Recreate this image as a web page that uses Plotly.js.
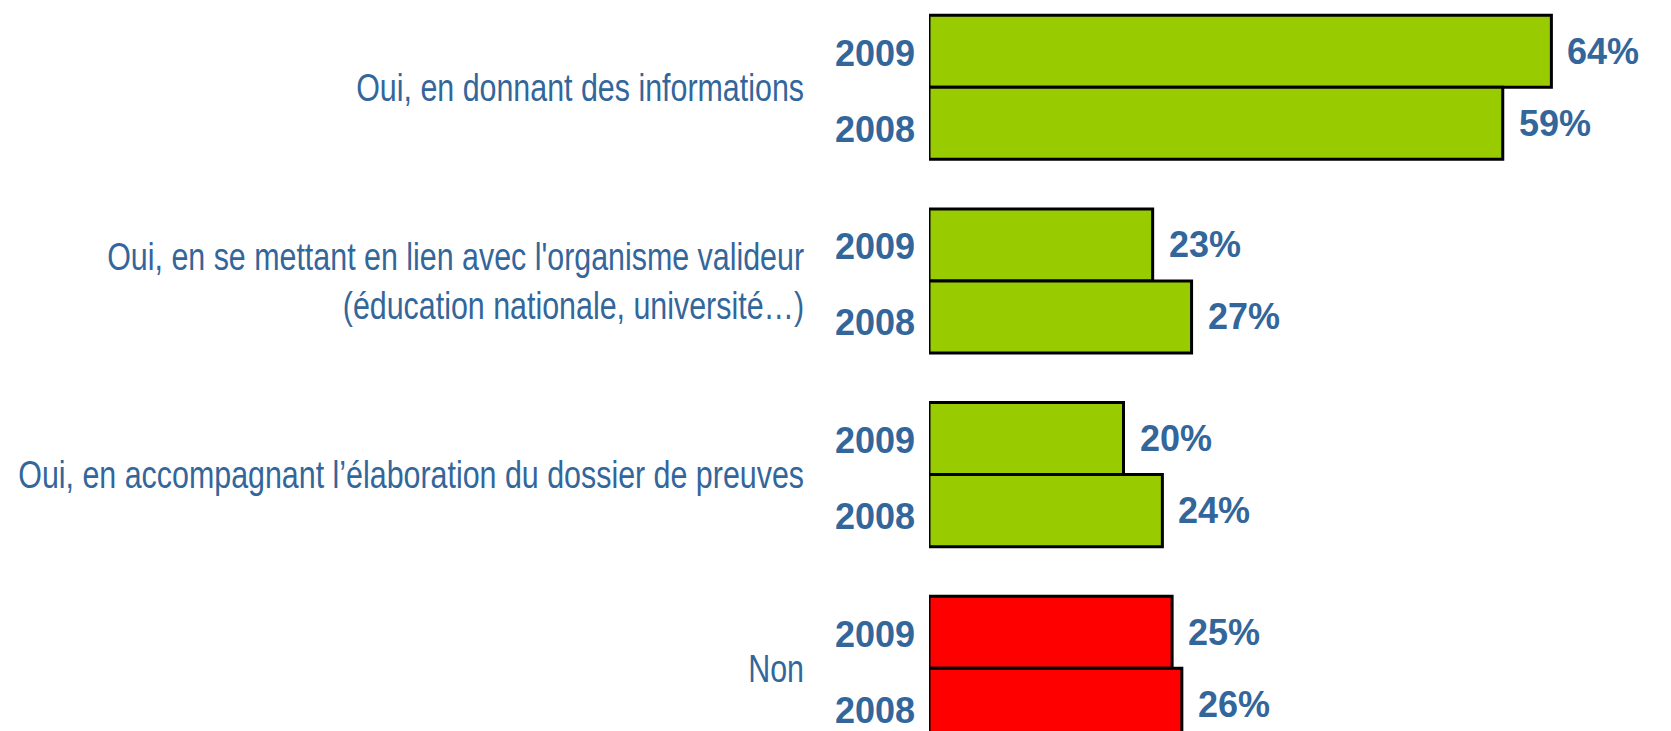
<!DOCTYPE html>
<html>
<head>
<meta charset="utf-8">
<script src="https://cdn.plot.ly/plotly-3.0.1.min.js"></script>
<style>html,body{margin:0;padding:0;background:#fff;}#chart{width:1671px;height:731px;}</style>
</head>
<body>
<div id="chart"></div>
<script>
// ---- data ----
const categories = [
  "Oui, en donnant des informations",
  "Oui, en se mettant en lien avec l'organisme valideur<br>(éducation nationale, université…)",
  "Oui, en accompagnant l’élaboration du dossier de preuves",
  "Non"
];
const years = ["2009", "2008"];
const values2009 = [64, 23, 20, 25];
const values2008 = [59, 27, 24, 26];

// ---- styles ----
const BLUE = "#33669A";
const GREEN = "#99CC00";
const RED = "#FF0000";
const BOLD_FONT = "Liberation Sans, Arial, sans-serif";
const barColors = categories.map(c => c === "Non" ? RED : GREEN);
const series = [values2009, values2008];

const traces = years.map((yr, k) => ({
  type: "bar",
  orientation: "h",
  name: yr,
  y: categories,
  x: series[k],
  cliponaxis: false,
  marker: {color: barColors, line: {color: "#000000", width: 3}},
  hoverinfo: "skip"
}));

const annotations = [];
categories.forEach((c, i) => {
  years.forEach((yr, k) => {
    // year label left of the bar
    annotations.push({
      x: 0, y: c, xref: "x", yref: "y",
      text: "<b>" + yr + "</b>",
      showarrow: false,
      xanchor: "right", yanchor: "middle",
      xshift: -12, yshift: k === 0 ? 34 : -42,
      font: {family: BOLD_FONT, size: 36, color: BLUE}
    });
    // value label right of the bar
    annotations.push({
      x: series[k][i], y: c, xref: "x", yref: "y",
      text: "<b>" + series[k][i] + "%</b>",
      showarrow: false,
      xanchor: "left", yanchor: "middle",
      xshift: 14, yshift: k === 0 ? 36 : -36,
      font: {family: BOLD_FONT, size: 36, color: BLUE}
    });
  });
});

const layout = {
  width: 1671, height: 731,
  margin: {l: 929, r: 0, t: 0, b: 0, pad: 0},
  paper_bgcolor: "#ffffff",
  plot_bgcolor: "#ffffff",
  showlegend: false,
  barmode: "group",
  bargap: 0.256,
  bargroupgap: 0,
  xaxis: {range: [0, 76.3], visible: false, showgrid: false, zeroline: false, fixedrange: true},
  yaxis: {
    type: "category",
    categoryorder: "array",
    categoryarray: categories,
    range: [3.324, -0.451],
    showgrid: false, zeroline: false, showline: false,
    ticks: "",
    ticklabelstandoff: 124,
    tickfont: {family: "Liberation Sans, Arial, sans-serif", size: 38, color: BLUE},
    automargin: false,
    fixedrange: true
  },
  annotations: annotations
};

Plotly.newPlot("chart", traces, layout, {displayModeBar: false, staticPlot: true}).then(() => {
  // condense the category labels horizontally (narrow typeface look), anchored at their right edge
  const SX = 0.80, DY = 0;
  document.querySelectorAll("#chart .ytick text").forEach(t => {
    const bb = t.getBBox();
    const rx = bb.x + bb.width;
    const old = t.getAttribute("transform") || "";
    t.setAttribute("transform", old + " translate(" + rx + "," + DY + ") scale(" + SX + ",1) translate(" + (-rx) + ",0)");
  });
});
</script>
</body>
</html>
